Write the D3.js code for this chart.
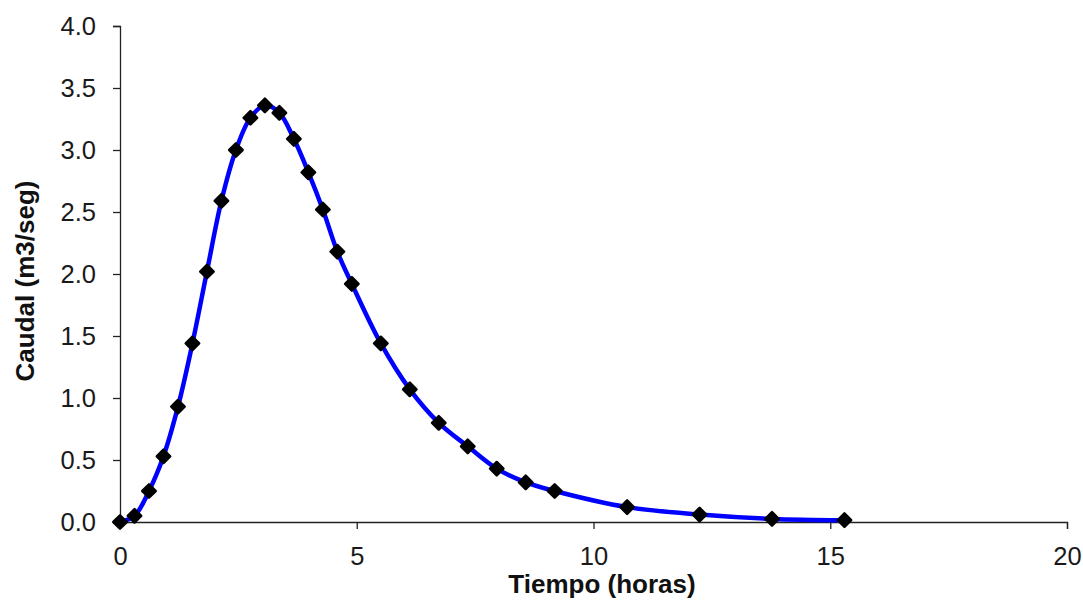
<!DOCTYPE html>
<html><head><meta charset="utf-8">
<script src="https://cdn.jsdelivr.net/npm/d3@7"></script>
<style>body{margin:0;background:#fff}svg{display:block}</style>
</head><body>
<svg id="c" width="1083" height="601"></svg>
<script>
const tiempo = [0, 0.306, 0.612, 0.918, 1.224, 1.53, 1.836, 2.142, 2.448, 2.754, 3.06, 3.366, 3.672, 3.978, 4.284, 4.59, 4.896,
  5.508, 6.12, 6.732, 7.344, 7.956, 8.568, 9.18, 10.71, 12.24, 13.77, 15.30];
const caudal = [0, 0.05, 0.25, 0.53, 0.93, 1.44, 2.02, 2.59, 3.0, 3.26, 3.36, 3.30, 3.09, 2.82, 2.52, 2.18, 1.92,
  1.44, 1.07, 0.80, 0.61, 0.43, 0.32, 0.25, 0.12, 0.06, 0.025, 0.015];
const xTicks = [0, 5, 10, 15, 20];
const yTicks = [0, 0.5, 1.0, 1.5, 2.0, 2.5, 3.0, 3.5, 4.0];
const xTitle = "Tiempo (horas)";
const yTitle = "Caudal (m3/seg)";

const svg = d3.select("#c");
const x = d3.scaleLinear().domain([0, 20]).range([120, 1067]);
const y = d3.scaleLinear().domain([0, 4]).range([522, 26]);
const font = "'Liberation Sans', Arial, sans-serif";

const gx = svg.append("g").attr("transform", `translate(0,${y(0)})`)
  .call(d3.axisBottom(x).tickValues(xTicks).tickSize(7).tickPadding(18).tickFormat(d3.format("d")));
const gy = svg.append("g").attr("transform", `translate(${x(0)},0)`)
  .call(d3.axisLeft(y).tickValues(yTicks).tickSize(7).tickPadding(17).tickFormat(d3.format(".1f")));
[gx, gy].forEach(g => {
  g.select(".domain").attr("stroke", "#222").attr("stroke-width", 1.3);
  g.selectAll(".tick line").attr("stroke", "#222").attr("stroke-width", 1.3);
  g.selectAll(".tick text").attr("font-family", font).attr("font-size", 25.5).attr("fill", "#1a1a1a");
});

const pts = tiempo.map((t, i) => [t, caudal[i]]);
svg.append("path").datum(pts)
  .attr("fill", "none").attr("stroke", "#0000ff").attr("stroke-width", 4.5)
  .attr("d", d3.line().x(d => x(d[0])).y(d => y(d[1])).curve(d3.curveCatmullRom.alpha(0.5)));

svg.append("g").selectAll("path").data(pts).join("path")
  .attr("transform", d => `translate(${x(d[0])},${y(d[1])})`)
  .attr("d", d3.symbol(d3.symbolDiamond2, 115)())
  .attr("fill", "#000").attr("stroke", "#000").attr("stroke-width", 2.5).attr("stroke-linejoin", "round");

svg.append("text").attr("x", 602).attr("y", 593)
  .attr("text-anchor", "middle").attr("font-family", font).attr("font-weight", "bold")
  .attr("font-size", 26).attr("fill", "#111").text(xTitle);
svg.append("text").attr("transform", `translate(34,281) rotate(-90)`)
  .attr("text-anchor", "middle").attr("font-family", font).attr("font-weight", "bold")
  .attr("font-size", 26).attr("fill", "#111").text(yTitle);
</script>
</body></html>
